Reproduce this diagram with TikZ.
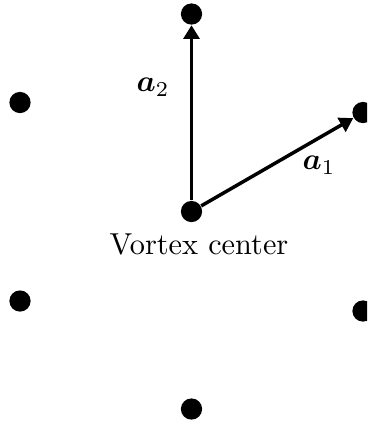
\documentclass[tikz,border=0pt]{standalone}
\usepackage{amsmath,bm}
\usetikzlibrary{arrows.meta}
\begin{document}
\begin{tikzpicture}[x=0.33pt,y=-0.33pt,
  dot/.style={circle,fill=black,inner sep=0pt,minimum size=7pt},
  vec/.style={line width=1.15pt,-{Triangle[length=4.5pt,width=5.2pt]}},
  lab/.style={inner sep=0pt}]
\useasboundingbox (0,0) rectangle (367,423);
\clip (0,0) rectangle (367,423);
\node[dot] (c) at (191.5,211.5) {};
\node[dot] (t) at (191.5,14) {};
\node[dot] (b) at (191.5,409) {};
\node[dot] (ru) at (363,112.5) {};
\node[dot] (rl) at (363,311) {};
\node[dot] (lu) at (20,102.5) {};
\node[dot] (ll) at (20,301) {};
\draw[vec] (c) -- (t);
\draw[vec] (c) -- (ru);
\node[lab] (a2) at (153,87) {$\bm{a}_2$};
\node[lab] (a1) at (319,165) {$\bm{a}_1$};
\node[lab] (vc) at (199,244) {Vortex center};
\end{tikzpicture}
\end{document}
